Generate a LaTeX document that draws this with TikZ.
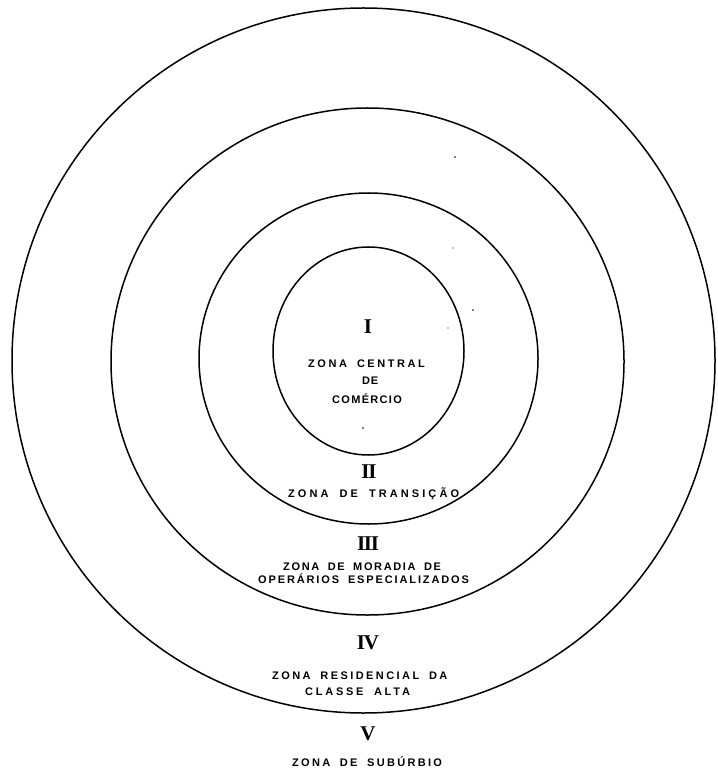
\documentclass[tikz,border=0pt]{standalone}
\usepackage{fontspec}
\newfontfamily\lblfont{Liberation Sans}[WordSpace=1.8]
\newfontfamily\numfont{Liberation Serif}[LetterSpace=-6]
\newcommand{\spaced}[2]{{\addfontfeature{LetterSpace=#1}#2}}
\tikzset{
  ring/.style={draw=black, line width=1.5pt},
  lbl/.style={font=\lblfont\bfseries\fontsize{11}{12}\selectfont, inner sep=0pt, anchor=base west},
  num/.style={font=\numfont\bfseries\fontsize{21}{21}\selectfont, inner sep=0pt, anchor=base},
  speck/.style={fill=black, draw=none}
}
\begin{document}
\begin{tikzpicture}[x=1pt,y=-1pt]
\useasboundingbox[fill=white] (0,0) rectangle (717,775);
% rings
\draw[ring] (363.5,360.5) ellipse [x radius=351.5pt, y radius=352.5pt];
\draw[ring] (367.5,361.5) ellipse [x radius=256.5pt, y radius=253.5pt];
\draw[ring] (368.5,358.5) ellipse [x radius=169.5pt, y radius=165.5pt];
\draw[ring] (368.5,351) ellipse [x radius=95.5pt, y radius=104pt];
% zone I
\node[num] (n1) at (368,333) {I};
\node[lbl] (z1a) at (308,367) {\spaced{23}{ZONA CENTRAL}};
\node[lbl] (z1b) at (362,384) {\spaced{6}{DE}};
\node[lbl] (z1c) at (332,403) {\spaced{12}{COMÉRCIO}};
% zone II
\node[num] (n2) at (369,478) {II};
\node[lbl] (z2) at (288,497) {\spaced{28}{ZONA DE TRANSIÇÃO}};
% zone III
\node[num] (n3) at (368,550) {III};
\node[lbl] (z3a) at (283,570) {\spaced{15}{ZONA DE MORADIA DE}};
\node[lbl] (z3b) at (258,583.5) {\spaced{17}{OPERÁRIOS ESPECIALIZADOS}};
% zone IV
\node[num] (n4) at (368,649) {IV};
\node[lbl] (z4a) at (272,679) {\spaced{22}{ZONA RESIDENCIAL DA}};
\node[lbl] (z4b) at (305,695.5) {\spaced{25}{CLASSE ALTA}};
% zone V
\node[num] (n5) at (368,740) {V};
\node[lbl] (z5) at (292,766) {\spaced{21}{ZONA DE SUBÚRBIO}};
% specks
\fill[speck] (363,428) circle (0.9pt);
\fill[speck] (473,310) circle (0.8pt);
\fill[speck] (448,328) circle (0.7pt);
\fill[speck] (455,157) circle (0.8pt);
\fill[speck] (453,248) circle (0.7pt);
\end{tikzpicture}
\end{document}
